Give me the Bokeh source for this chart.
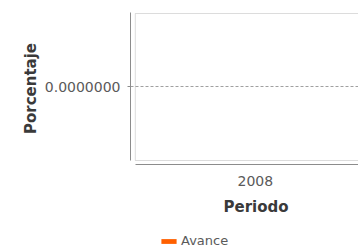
import math
from bokeh.plotting import figure
from bokeh.layouts import column
from bokeh.models import (Range1d, FixedTicker, PrintfTickFormatter, BoxAnnotation,
                          Title, Legend, LegendItem)
from bokeh.embed import file_html
from bokeh.resources import INLINE

# ---- data ----
periods = [2008]
period_labels = ["2008"]
avance = [0.0]
y_ticks = [0.0]
series_name = "Avance"
x_title = "Periodo"
y_title = "Porcentaje"

# ---- styling constants ----
ORANGE = "#FF6000"
FRAME_GREY = "#8c8c8c"
TICK_TEXT = "#5a5a5a"
TITLE_TEXT = "#3a3a3a"
FONT = "DejaVu Sans"

XMIN, XMAX = 2007.48, 2008.43
YMIN, YMAX = -1.054, 1.0
INNER_LEFT = 2007.5
INNER_BOTTOM = -1.0
INNER_TOP = 0.9865

W = 358
H_MAIN = 228
H_LEG = 21

p = figure(width=W, height=H_MAIN,
           x_range=Range1d(XMIN, XMAX), y_range=Range1d(YMIN, YMAX),
           output_backend="svg", toolbar_location=None,
           min_border_left=130, min_border_right=0,
           min_border_top=12, min_border_bottom=H_MAIN - 164)
p.outline_line_color = None
p.background_fill_color = "white"
p.border_fill_color = "white"

p.vbar(x=periods, top=avance, width=0.5, fill_color=ORANGE, line_color=None)

# inner frame (top, left, bottom lines)
box = BoxAnnotation(left=INNER_LEFT, right=XMAX + 0.5, bottom=INNER_BOTTOM, top=INNER_TOP,
                    fill_alpha=0, line_color=FRAME_GREY, line_width=1)
p.add_layout(box)

# y axis
ya = p.yaxis[0]
ya.ticker = FixedTicker(ticks=y_ticks)
ya.formatter = PrintfTickFormatter(format="%.7f")
ya.bounds = (INNER_BOTTOM, YMAX)
ya.axis_line_color = FRAME_GREY
ya.major_tick_line_color = FRAME_GREY
ya.major_tick_out = 3
ya.major_tick_in = 0
ya.minor_tick_out = 0
ya.minor_tick_in = 0
ya.major_label_standoff = 7
ya.major_label_text_font = FONT
ya.major_label_text_font_size = "14px"
ya.major_label_text_color = TICK_TEXT
ya.axis_label = y_title
ya.axis_label_standoff = 2
ya.axis_label_text_font = FONT
ya.axis_label_text_font_size = "15px"
ya.axis_label_text_font_style = "bold"
ya.axis_label_text_color = TITLE_TEXT

# x axis
xa = p.xaxis[0]
xa.ticker = FixedTicker(ticks=periods)
xa.major_label_overrides = {periods[i]: period_labels[i] for i in range(len(periods))}
xa.bounds = (INNER_LEFT, XMAX)
xa.axis_line_color = FRAME_GREY
xa.major_tick_out = 0
xa.major_tick_in = 0
xa.minor_tick_out = 0
xa.minor_tick_in = 0
xa.major_label_standoff = 11
xa.major_label_text_font = FONT
xa.major_label_text_font_size = "14px"
xa.major_label_text_color = TICK_TEXT

# grid
p.xgrid.visible = False
p.ygrid.grid_line_color = "#a0a0a0"
p.ygrid.grid_line_dash = "3 2"
p.ygrid.grid_line_width = 1

# x title below the axis
p.add_layout(Title(text=x_title, align="left", offset=93, standoff=14,
                   text_font=FONT, text_font_size="15px", text_font_style="bold",
                   text_color=TITLE_TEXT), "below")

# legend strip (its frame is aligned with the main frame by the column layout)
lg = figure(width=W, height=H_LEG, x_range=Range1d(XMIN, XMAX), y_range=Range1d(YMIN, YMAX),
            output_backend="svg", toolbar_location=None,
            x_axis_type=None, y_axis_type=None,
            min_border_left=0, min_border_right=0, min_border_top=0, min_border_bottom=0)
lg.outline_line_color = None
lg.xgrid.visible = False
lg.ygrid.visible = False
r = lg.vbar(x=periods, top=avance, width=0.5, fill_color=ORANGE, line_color=None)
legend = Legend(items=[LegendItem(label=series_name, renderers=[r])],
                location=(29, 1), orientation="horizontal",
                padding=0, margin=0, spacing=0,
                glyph_width=19, glyph_height=6, label_standoff=3,
                label_height=6, label_width=10,
                label_text_font=FONT, label_text_font_size="13px",
                label_text_color=TICK_TEXT,
                border_line_color=None, background_fill_alpha=0)
lg.add_layout(legend)

layout = column(p, lg, spacing=0)
open("out.html", "w").write(file_html(layout, INLINE))
